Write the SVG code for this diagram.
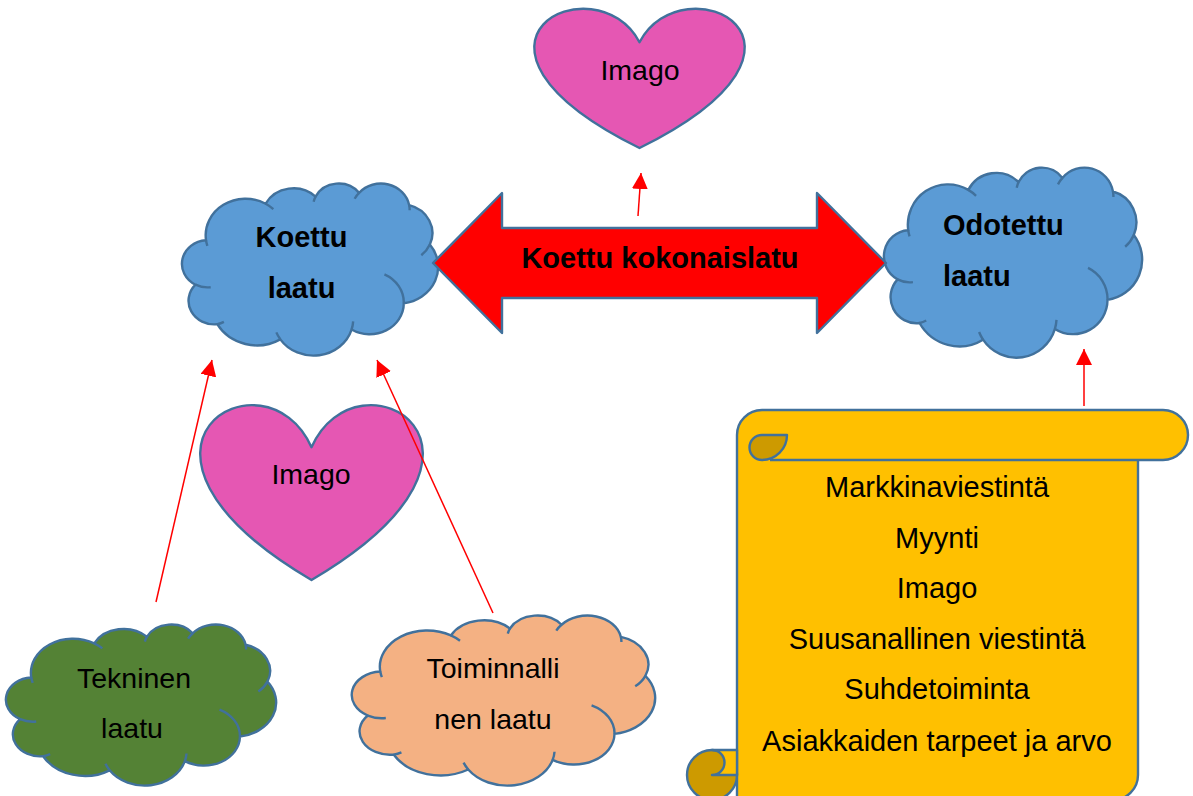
<svg xmlns="http://www.w3.org/2000/svg" xmlns:xlink="http://www.w3.org/1999/xlink" width="1193" height="796" viewBox="0 0 1193 796">
<style>
.ol{stroke:#41719C;stroke-width:2.4;stroke-linejoin:round}
.cl{stroke:#41719C;stroke-width:2.4;vector-effect:non-scaling-stroke;stroke-linejoin:round}
.inner{fill:none;stroke:#41719C;stroke-width:2.4;vector-effect:non-scaling-stroke}
.blue{fill:#5B9BD5}
.green{fill:#548235}
.peach{fill:#F4B183}
.pink{fill:#E557B3}
.gold{fill:#FFC000}
.dark{fill:#CD9A00}
.nofill{fill:none}
.t{font-family:"Liberation Sans",Arial,sans-serif;font-size:28.5px;fill:#000}
.b{font-weight:bold;font-size:29px}
.s{font-family:"Liberation Sans",Arial,sans-serif;font-size:29px;fill:#000;text-anchor:middle}
.mid{text-anchor:middle}
.conn{stroke:#FF0000;stroke-width:1.5;fill:none;marker-end:url(#ah)}
</style>
<defs>
<marker id="ah" markerUnits="userSpaceOnUse" markerWidth="16" markerHeight="16" viewBox="0 0 16 16" refX="16" refY="8" orient="auto">
<path d="M0,0 L16,8 L0,16 Z" fill="#FF0000"/>
</marker>
<path id="cloud" class="cl" d="M9.03 33.26 A15.63 21.27 0 0 1 32.42 12.04 A12.34 16.82 0 0 1 51.98 7.94 A10.10 13.76 0 0 1 69.06 5.74 A11.24 15.27 0 0 1 88.70 12.90 A12.34 16.84 0 0 1 96.81 35.78 A15.68 21.34 0 0 1 86.59 69.91 A13.39 18.21 0 0 1 66.11 85.21 A15.63 21.33 0 0 1 38.16 90.89 A17.87 24.41 0 0 1 13.44 82.11 A10.09 13.70 0 0 1 4.90 59.13 A10.06 13.76 0 0 1 9.03 33.26 Z"/>
<path id="cloudIn" class="inner" d="M10.86 60.59 A10.06 13.76 0 0 1 4.90 59.13 M16.04 80.78 A10.09 13.70 0 0 1 13.44 82.11 M38.16 90.89 A15.63 21.33 0 0 1 36.61 86.86 M66.73 80.44 A15.63 21.33 0 0 1 66.11 85.21 M79.00 53.13 A13.39 18.21 0 0 1 86.59 69.91 M96.81 35.78 A12.34 16.84 0 0 1 93.45 41.98 M88.70 12.90 A11.24 15.27 0 0 1 88.88 15.83 M67.31 9.15 A11.24 15.27 0 0 1 69.06 5.74 M51.25 10.93 A10.10 13.76 0 0 1 51.98 7.94 M32.42 12.04 A15.63 21.27 0 0 1 35.43 15.16 M9.55 36.55 A15.63 21.27 0 0 1 9.03 33.26"/>
</defs>
<rect width="1193" height="796" fill="#FFFFFF"/>

<g id="imago-top">
<path class="pink ol" d="M639.5 42.25 C683 -40 852.8 42.25 639.5 148 C426.2 42.25 596 -40 639.5 42.25 Z"/>
<text class="t mid" x="640" y="80">Imago</text>
</g>

<g id="koettu-laatu">
<use xlink:href="#cloud" class="blue" transform="translate(183,183) scale(2.55,1.72)"/>
<use xlink:href="#cloudIn" transform="translate(183,183) scale(2.55,1.72)"/>
<text class="t b mid" x="301.5" y="247">Koettu</text>
<text class="t b mid" x="301.5" y="298">laatu</text>
</g>

<g id="odotettu-laatu">
<use xlink:href="#cloud" class="blue" transform="translate(885,167) scale(2.57,1.90)"/>
<use xlink:href="#cloudIn" transform="translate(885,167) scale(2.57,1.90)"/>
<text class="t b" x="943" y="235">Odotettu</text>
<text class="t b" x="943" y="286">laatu</text>
</g>

<g id="koettu-kokonaislatu">
<path class="ol" fill="#FF0000" d="M433 263 L502 193 L502 228 L817 228 L817 193 L886 263 L817 333 L817 298 L502 298 L502 333 Z"/>
<text class="t b mid" x="660" y="268">Koettu kokonaislatu</text>
</g>

<g id="imago-mid">
<path class="pink ol" d="M311.5 447.25 C357.5 344 537.1 447.25 311.5 580 C85.9 447.25 265.5 344 311.5 447.25 Z"/>
<text class="t mid" x="311" y="484">Imago</text>
</g>

<g id="tekninen-laatu">
<use xlink:href="#cloud" class="green" transform="translate(7,624) scale(2.69,1.61)"/>
<use xlink:href="#cloudIn" transform="translate(7,624) scale(2.69,1.61)"/>
<text class="t mid" x="134" y="688">Tekninen</text>
<text class="t mid" x="132" y="738">laatu</text>
</g>

<g id="toiminnallinen-laatu">
<use xlink:href="#cloud" class="peach" transform="translate(353,615) scale(3.02,1.70)"/>
<use xlink:href="#cloudIn" transform="translate(353,615) scale(3.02,1.70)"/>
<text class="t mid" x="493" y="678">Toiminnalli</text>
<text class="t mid" x="493" y="729">nen laatu</text>
</g>

<g id="scroll">
<path class="gold" d="M762 410 H1163 A25 25 0 0 1 1163 460 H762 A25 25 0 0 1 762 410 Z"/>
<path class="gold ol" d="M737 435 V800 H1113 A25 25 0 0 0 1138 775 V460"/>
<circle class="dark ol" cx="712" cy="775" r="25"/>
<path class="gold ol" d="M712 750 H737 V775 H712 A12.5 12.5 0 0 0 712 750 Z"/>
<path class="nofill ol" d="M737 435 A25 25 0 0 1 762 410 H1163 A25 25 0 0 1 1163 460 H770"/>
<path class="dark ol" d="M762 435 A12.5 12.5 0 0 0 762 460 A25 25 0 0 0 787 435 Z"/>
<text class="s" x="937" y="497">Markkinaviestintä</text>
<text class="s" x="937" y="548">Myynti</text>
<text class="s" x="937" y="598">Imago</text>
<text class="s" x="937" y="649">Suusanallinen viestintä</text>
<text class="s" x="937" y="699">Suhdetoiminta</text>
<text class="s" x="937" y="751">Asiakkaiden tarpeet ja arvo</text>
</g>

<g id="connectors">
<line class="conn" x1="638" y1="216" x2="641" y2="173"/>
<line class="conn" x1="156" y1="602" x2="212" y2="360"/>
<line class="conn" x1="493" y1="613" x2="377" y2="360"/>
<line class="conn" x1="1084" y1="406" x2="1084" y2="349"/>
</g>
</svg>
